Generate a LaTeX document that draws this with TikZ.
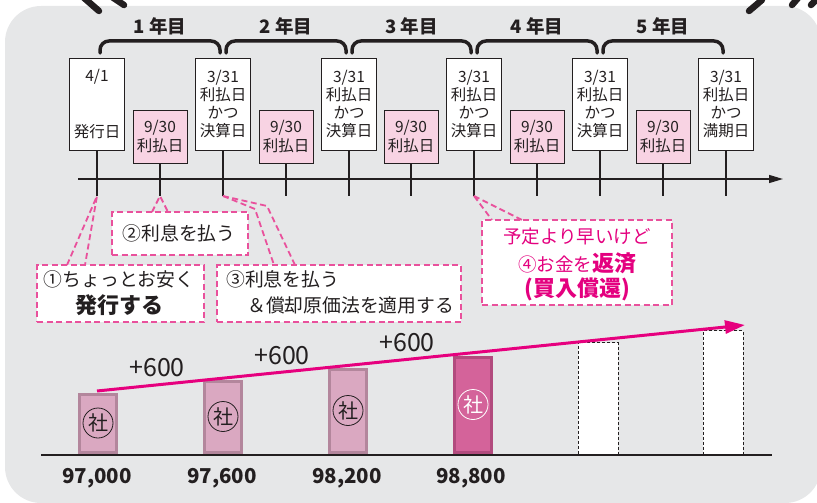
\documentclass[tikz,border=0pt]{standalone}
\usepackage{fontspec}
\setmainfont{Noto Sans CJK JP}
\usetikzlibrary{arrows.meta,calc}
\definecolor{bggray}{HTML}{E6E7E8}
\definecolor{pinkfill}{HTML}{F8D3E3}
\definecolor{callpink}{HTML}{E9519C}
\definecolor{magtext}{HTML}{E4007F}
\definecolor{magline}{HTML}{E6007E}
\definecolor{barlight}{HTML}{DAA8C1}
\definecolor{baredge}{HTML}{B3869C}
\definecolor{bardark}{HTML}{D4639A}
\definecolor{bardarkedge}{HTML}{B24B7E}
\definecolor{ink}{HTML}{231F20}
\tikzset{
 datebox/.style={draw=ink, line width=0.7pt, fill=white, minimum width=55pt, minimum height=92pt, inner sep=0pt, align=center, font=\fontsize{15.5}{18.3}\selectfont, text=ink},
 paybox/.style={draw=ink, line width=0.7pt, fill=pinkfill, minimum width=54pt, minimum height=53pt, inner sep=0pt, align=center, font=\fontsize{15.5}{18.3}\selectfont, text=ink},
 tickline/.style={draw=ink, line width=1.3pt},
 bracket/.style={draw=ink, line width=3.5pt, rounded corners=9pt, line cap=round},
 yearlbl/.style={font=\fontsize{18.5}{20}\selectfont\bfseries, text=ink, inner sep=0pt},
 callout/.style={draw=callpink, line width=1.8pt, dash pattern=on 6pt off 3.5pt, fill=white, inner sep=0pt},
 ptr/.style={draw=callpink, line width=1.8pt, dash pattern=on 6pt off 3.5pt},
 ctext/.style={font=\fontsize{18.8}{22}\selectfont, text=ink, inner sep=0pt},
 mtext/.style={font=\fontsize{18.5}{22}\selectfont, text=magtext, inner sep=0pt},
 barbox/.style={fill=barlight, draw=baredge, line width=3pt, minimum width=37pt, inner sep=0pt, anchor=south},
 bardk/.style={fill=bardark, draw=bardarkedge, line width=3pt, minimum width=37pt, inner sep=0pt, anchor=south},
 futbar/.style={fill=white, draw=ink, line width=1pt, dash pattern=on 3pt off 2pt, minimum width=40pt, inner sep=0pt, anchor=south},
 sha/.style={circle, draw=ink, line width=0.8pt, minimum size=30pt, inner sep=0pt, font=\fontsize{20}{20}\selectfont, text=ink},
 valtext/.style={font=\fontsize{20.5}{20}\selectfont\bfseries, text=ink, inner sep=0pt},
 plustext/.style={font=\fontsize{25}{25}\selectfont, text=ink, inner sep=0pt},
 deco/.style={draw=ink, line width=6.5pt, line cap=round}
}
\begin{document}
\begin{tikzpicture}[x=1pt,y=-1pt]
\useasboundingbox (0,0) rectangle (817,503);
\begin{scope}
\clip (0,0) rectangle (817,503);
\fill[bggray, rounded corners=36pt] (5,6) rectangle (821,503);
\draw[deco] (83,-3) -- (99,11);
\draw[deco] (112,-3) -- (124,5);
\draw[deco] (749,11) -- (762,0);
\draw[deco] (792,5) -- (798,-2);
\draw[deco] (811,5) -- (818,-2);
\end{scope}

% timeline axis
\coordinate (tl0) at (78,179);
\coordinate (tl1) at (783,179);
\draw[ink, line width=1.3pt, -{Triangle[length=14pt,width=8pt]}] (tl0) -- (tl1);

% date boxes
\node[datebox] (w0) at (97,104) {4/1\\[37pt]発行日};
\node[datebox] (w1) at (223,104) {3/31\\利払日\\かつ\\決算日};
\node[datebox] (w2) at (349,104) {3/31\\利払日\\かつ\\決算日};
\node[datebox] (w3) at (474,104) {3/31\\利払日\\かつ\\決算日};
\node[datebox] (w4) at (600,104) {3/31\\利払日\\かつ\\決算日};
\node[datebox] (w5) at (726,104) {3/31\\利払日\\かつ\\満期日};
\node[paybox] (p1) at (160,136.5) {9/30\\利払日};
\node[paybox] (p2) at (286,136.5) {9/30\\利払日};
\node[paybox] (p3) at (411,136.5) {9/30\\利払日};
\node[paybox] (p4) at (537,136.5) {9/30\\利払日};
\node[paybox] (p5) at (663,136.5) {9/30\\利払日};

% ticks
\foreach \n in {w0,w1,w2,w3,w4,w5,p1,p2,p3,p4,p5}{
  \coordinate (\n t) at (\n.south |- 0,196);
  \draw[tickline] (\n.south) -- (\n t);
}

% year brackets
\foreach \a/\b/\lbl [count=\i] in {w0/w1/1,w1/w2/2,w2/w3/3,w3/w4/4,w4/w5/5}{
  \draw[bracket] ([xshift=3pt]\a.north |- 0,53) -- ([xshift=3pt]\a.north |- 0,41) -- ([xshift=-3pt]\b.north |- 0,41) -- ([xshift=-3pt]\b.north |- 0,53);
  \node[yearlbl] (y\i) at ($(\a.north)!0.5!(\b.north) + (0,-31)$) {\lbl\hspace{4pt}年目};
}

% callout 2
\node[callout, minimum width=136pt, minimum height=43pt] (c2) at (180,233.5) {};
\node[ctext] (c2t) at (179,233) {②利息を払う};
\draw[ptr] (152,212) -- (p1t) -- (168,212);

% callout 1
\node[callout, minimum width=167pt, minimum height=57pt] (c1) at (120.5,293.5) {};
\node[ctext] (c1a) at (119,279) {①ちょっとお安く};
\node[ctext, font=\fontsize{22}{22}\selectfont\bfseries] (c1b) at (119,305) {発行する};
\draw[ptr] (67,265) -- (w0t) -- (85,265);

% callout 3
\node[callout, minimum width=244pt, minimum height=57pt] (c3) at (339,293.5) {};
\node[ctext, anchor=west] (c3a) at (226,279) {③利息を払う};
\node[ctext, anchor=west] (c3b) at (247,305) {＆償却原価法を適用する};
\draw[ptr] (w1t) -- (267,206) -- (295,265);
\draw[ptr] (w1t) -- (255,209) -- (274,265);

% callout 4
\node[callout, minimum width=190pt, minimum height=85pt] (c4) at (577,262.5) {};
\node[mtext] (c4a) at (577,237) {予定より早いけど};
\node[mtext] (c4b) at (577,263) {④お金を{\fontsize{22}{22}\selectfont\bfseries 返済}};
\node[mtext, font=\fontsize{22}{22}\selectfont\bfseries] (c4c) at (577,289) {(買入償還)};
\draw[ptr] (w3t) -- (492,220);
\draw[ptr] (w3t) -- (522,220);

% bars
\node[barbox, minimum height=58pt] (b1) at (98,453.5) {};
\node[barbox, minimum height=71pt] (b2) at (223,453.5) {};
\node[barbox, minimum height=83pt] (b3) at (348,453.5) {};
\node[bardk, minimum height=95pt] (b4) at (473,453.5) {};
\node[futbar, minimum height=112pt] (b5) at (598,455) {};
\node[futbar, minimum height=124pt] (b6) at (723,455) {};
\node[sha] (s1) at (b1.center) {社};
\node[sha] (s2) at (b2.center) {社};
\node[sha] (s3) at (b3.center) {社};
\node[sha, draw=white, text=white] (s4) at (b4.center) {社};

\coordinate (g0) at (41,455);
\coordinate (g1) at (772,455);
\draw[ink, line width=1.2pt] (g0) -- (g1);

\node[valtext] (v1) at (97,478) {97,000};
\node[valtext] (v2) at (222,478) {97,600};
\node[valtext] (v3) at (347,478) {98,200};
\node[valtext] (v4) at (471,478) {98,800};

% growth arrow
\coordinate (a0) at (97,391);
\coordinate (a1) at (745,325);
\draw[magline, line width=3pt, -{Triangle[length=20pt,width=13pt]}] (a0) -- (a1);
\node[plustext] (d1) at (157,368) {+600};
\node[plustext] (d2) at (282,356) {+600};
\node[plustext] (d3) at (407,343) {+600};
\end{tikzpicture}
\end{document}
